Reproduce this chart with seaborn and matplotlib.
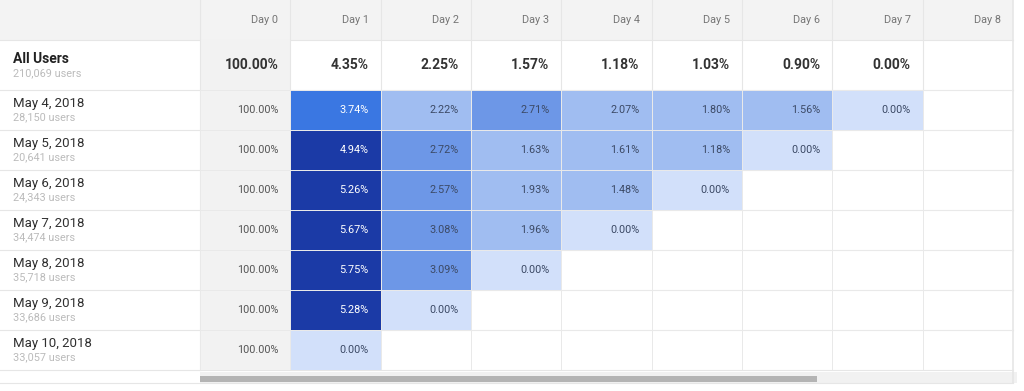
import matplotlib.pyplot as plt
import matplotlib.colors as mcolors
import numpy as np
import pandas as pd
import seaborn as sns

days = ["Day 0", "Day 1", "Day 2", "Day 3", "Day 4", "Day 5", "Day 6", "Day 7", "Day 8"]
cohorts = ["May 4, 2018", "May 5, 2018", "May 6, 2018", "May 7, 2018",
           "May 8, 2018", "May 9, 2018", "May 10, 2018"]
cohort_users = ["28,150", "20,641", "24,343", "34,474", "35,718", "33,686", "33,057"]
all_users_total = "210,069"
all_users_pct = [100.00, 4.35, 2.25, 1.57, 1.18, 1.03, 0.90, 0.00]

may4 = [100.00, 3.74, 2.22, 2.71, 2.07, 1.80, 1.56, 0.00]
may5 = [100.00, 4.94, 2.72, 1.63, 1.61, 1.18, 0.00]
may6 = [100.00, 5.26, 2.57, 1.93, 1.48, 0.00]
may7 = [100.00, 5.67, 3.08, 1.96, 0.00]
may8 = [100.00, 5.75, 3.09, 0.00]
may9 = [100.00, 5.28, 0.00]
may10 = [100.00, 0.00]

rows = [may4, may5, may6, may7, may8, may9, may10]
df = pd.DataFrame([r + [np.nan] * (len(days) - len(r)) for r in rows],
                  index=cohorts, columns=days)

plt.rcParams['font.family'] = ['Roboto', 'DejaVu Sans']

W, H = 1024, 391
left_px, right_px = 200, 1013
head_h, all_h, row_h = 40, 50, 40
grid_c = "#e6e6e6"
small = 7.8

fig = plt.figure(figsize=(W / 100, H / 100), dpi=100)

# background axes in pixel coords
bg = fig.add_axes([0, 0, 1, 1])
bg.set_xlim(0, W)
bg.set_ylim(H, 0)
bg.set_axis_off()
bg.axhspan(0, head_h, xmin=0, xmax=right_px / W, color="#f3f3f3", lw=0)
bottom = head_h + all_h + row_h * len(cohorts)
for y in [head_h, head_h + all_h] + [head_h + all_h + row_h * (i + 1) for i in range(len(cohorts))]:
    bg.plot([0, right_px], [y, y], color=grid_c, lw=0.8)
bg.plot([left_px, left_px], [0, bottom], color=grid_c, lw=0.8)
bg.plot([right_px, right_px], [0, bottom + 13], color=grid_c, lw=1.2)
bg.plot([0, right_px], [bottom + 13, bottom + 13], color=grid_c, lw=0.8)
# scrollbar
bg.add_patch(plt.Rectangle((left_px, bottom + 2), right_px - left_px + 4, 11, color="#f1f1f1", lw=0))
bg.add_patch(plt.Rectangle((left_px, bottom + 6), 617, 6, color="#b4b4b4", lw=0))

# left labels
bg.text(13, head_h + 19, "All Users", fontsize=10, fontweight="bold", color="#212121", va="center")
bg.text(13, head_h + 33, f"{all_users_total} users", fontsize=small, color="#bbbbbb", va="center")
for i, (name, users) in enumerate(zip(cohorts, cohort_users)):
    top = head_h + all_h + row_h * i
    bg.text(13, top + 13, name, fontsize=9.5, color="#303030", va="center")
    bg.text(13, top + 27, f"{users} users", fontsize=small, color="#bbbbbb", va="center")

# header + all users row, same column scale as the heatmap
top_ax = fig.add_axes([left_px / W, 1 - (head_h + all_h) / H, (right_px - left_px) / W, (head_h + all_h) / H])
top_ax.set_xlim(0, len(days))
top_ax.set_ylim(head_h + all_h, 0)
top_ax.set_axis_off()
top_ax.patch.set_alpha(0)
top_ax.axvspan(0, 1, ymin=0, ymax=all_h / (head_h + all_h), color="#f2f2f2", lw=0)
off = 12 / ((right_px - left_px) / len(days))
for j, d in enumerate(days):
    top_ax.plot([j, j], [0, head_h + all_h], color=grid_c, lw=0.8)
    top_ax.text(j + 1 - off, head_h / 2, d, fontsize=small, color="#757575", ha="right", va="center")
for j, v in enumerate(all_users_pct):
    top_ax.text(j + 1 - off, head_h + all_h / 2, f"{v:.2f}%", fontsize=10,
                fontweight="bold", color="#333333", ha="right", va="center")

# cohort heatmap
ax = fig.add_axes([left_px / W, 1 - bottom / H, (right_px - left_px) / W, row_h * len(cohorts) / H])
bounds = [0, 0.5, 2.4, 3.5, 4.5, 50, 101]
cmap = mcolors.ListedColormap(["#d2e0fa", "#a0bdf1", "#6d97e7", "#3a77e2", "#1b3aa6", "#f2f2f2"])
norm = mcolors.BoundaryNorm(bounds, cmap.N)
sns.heatmap(df, ax=ax, cmap=cmap, norm=norm, cbar=False, annot=False,
            linewidths=0.5, linecolor="#e9e9e9", xticklabels=False, yticklabels=False)
for i in range(df.shape[0]):
    for j in range(df.shape[1]):
        v = df.iat[i, j]
        if np.isnan(v):
            continue
        col = "white" if 3.5 <= v < 50 else ("#555555" if v >= 50 else "#3c4a66")
        ax.text(j + 1 - off, i + 0.5, f"{v:.2f}%", fontsize=small, color=col, ha="right", va="center")
ax.set_xlim(0, len(days))
ax.set_ylim(len(cohorts), 0)
ax.set_axis_off()

fig.savefig("out.png", dpi=100)
